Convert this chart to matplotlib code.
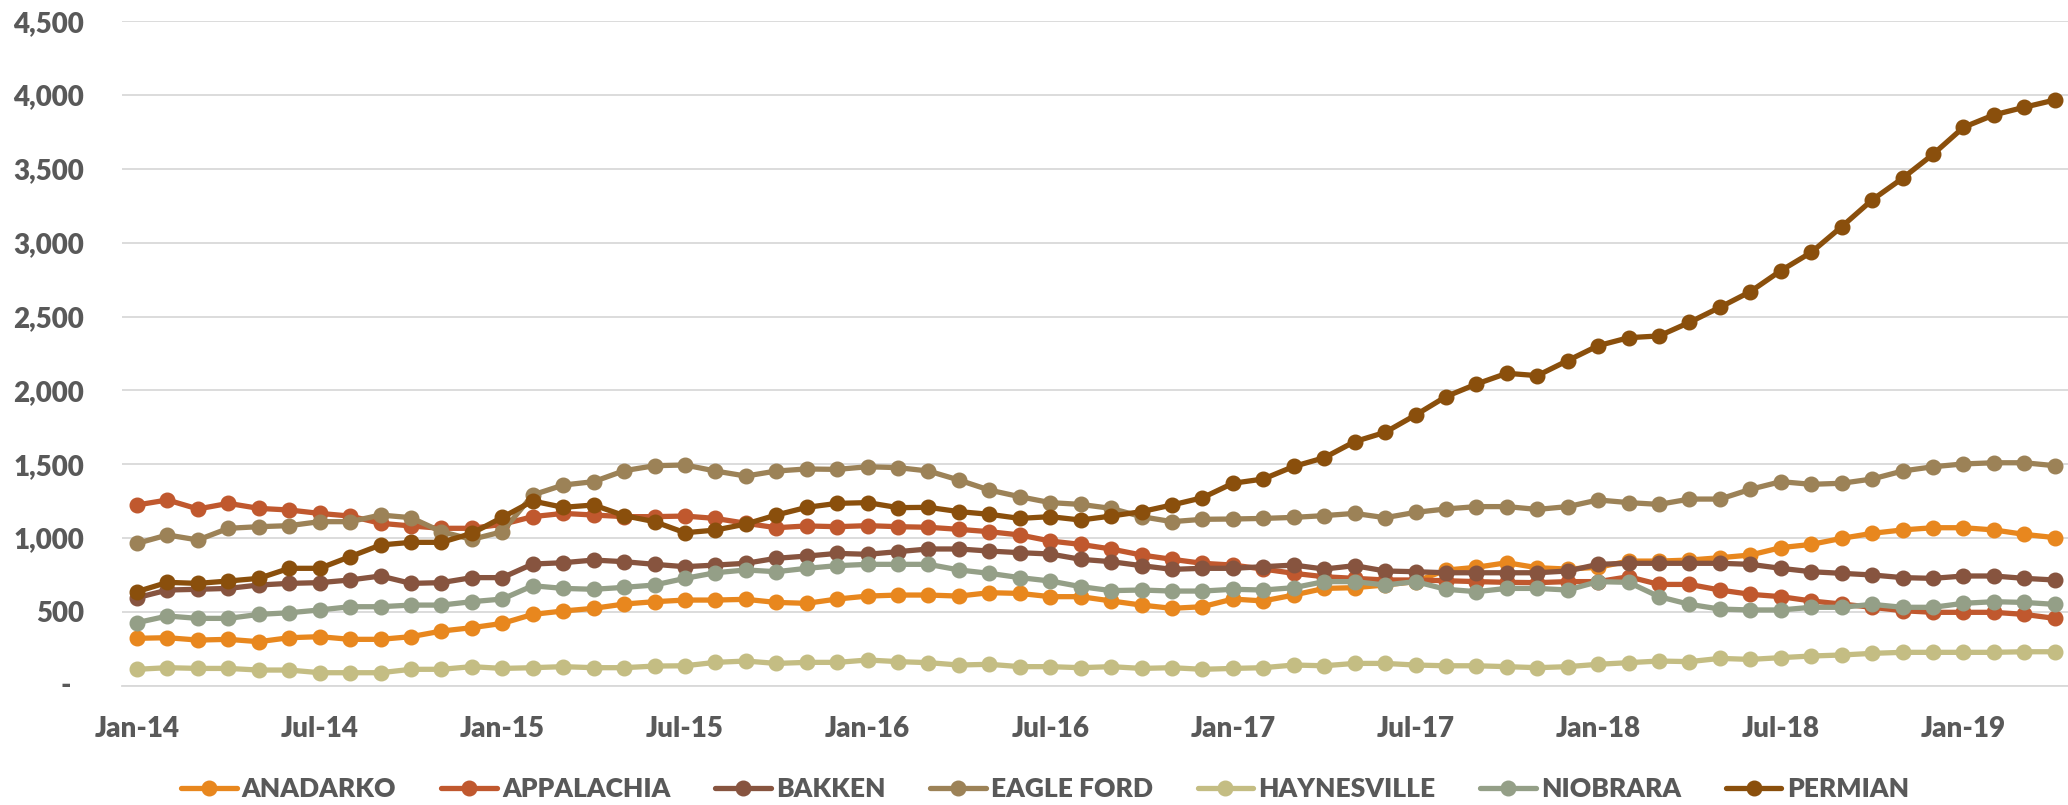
import matplotlib.pyplot as plt
from matplotlib.ticker import FuncFormatter, MultipleLocator

# monthly values, Jan-14 .. Apr-19
months = ['Jan-14', 'Feb-14', 'Mar-14', 'Apr-14', 'May-14', 'Jun-14', 'Jul-14', 'Aug-14',
          'Sep-14', 'Oct-14', 'Nov-14', 'Dec-14', 'Jan-15', 'Feb-15', 'Mar-15', 'Apr-15',
          'May-15', 'Jun-15', 'Jul-15', 'Aug-15', 'Sep-15', 'Oct-15', 'Nov-15', 'Dec-15',
          'Jan-16', 'Feb-16', 'Mar-16', 'Apr-16', 'May-16', 'Jun-16', 'Jul-16', 'Aug-16',
          'Sep-16', 'Oct-16', 'Nov-16', 'Dec-16', 'Jan-17', 'Feb-17', 'Mar-17', 'Apr-17',
          'May-17', 'Jun-17', 'Jul-17', 'Aug-17', 'Sep-17', 'Oct-17', 'Nov-17', 'Dec-17',
          'Jan-18', 'Feb-18', 'Mar-18', 'Apr-18', 'May-18', 'Jun-18', 'Jul-18', 'Aug-18',
          'Sep-18', 'Oct-18', 'Nov-18', 'Dec-18', 'Jan-19', 'Feb-19', 'Mar-19', 'Apr-19']

anadarko = [321, 325, 309, 314, 298, 325, 332, 314, 314, 332, 370, 393, 422, 483, 506, 524,
            553, 569, 580, 580, 585, 564, 558, 587, 607, 614, 614, 607, 630, 625, 603, 603,
            574, 546, 524, 535, 587,
            574, 614, 659, 664, 682, 705, 783, 802, 833, 799, 790, 802, 844, 844, 851, 867,
            885, 935, 957, 998, 1032, 1055, 1070, 1070, 1055, 1025, 1003]
appalachia = [1224, 1258, 1197, 1235, 1201, 1190, 1167, 1149, 1100, 1082, 1066, 1066, 1093, 1145, 1167, 1156,
              1145, 1145, 1149, 1133, 1100, 1070, 1082, 1077, 1084, 1077, 1073, 1059, 1043, 1021, 980, 957,
              926, 885, 856, 829, 817,
              790, 761, 738, 727, 716, 716, 711, 705, 700, 698, 705, 705, 738, 686, 686, 648,
              619, 603, 574, 553, 531, 508, 497, 497, 497, 483, 456]
bakken = [596, 648, 653, 659, 682, 693, 698, 716, 743, 693, 698, 732, 732, 824, 833, 851,
          840, 822, 806, 817, 829, 863, 878, 896, 890, 908, 926, 926, 912, 901, 892, 856,
          840, 813, 788, 795, 795,
          806, 817, 790, 813, 777, 772, 765, 765, 765, 765, 777, 822, 829, 829, 829, 829,
          822, 795, 772, 761, 750, 732, 727, 743, 743, 727, 716]
eagle_ford = [964, 1021, 987, 1066, 1077, 1084, 1111, 1111, 1156, 1138, 1043, 991, 1043, 1292, 1359, 1382,
              1456, 1490, 1495, 1454, 1420, 1454, 1468, 1465, 1483, 1477, 1454, 1393, 1325, 1280, 1240, 1228,
              1201, 1145, 1111, 1127, 1129,
              1133, 1140, 1152, 1167, 1138, 1174, 1197, 1213, 1213, 1194, 1213, 1258, 1240, 1228, 1264, 1264,
              1330, 1382, 1364, 1371, 1400, 1454, 1483, 1502, 1510, 1510, 1490]
haynesville = [111, 122, 117, 117, 106, 106, 88, 88, 88, 111, 111, 129, 117, 122, 129, 122,
               122, 133, 135, 158, 167, 151, 158, 158, 174, 163, 156, 140, 145, 129, 129, 122,
               129, 117, 122, 111, 117,
               122, 140, 135, 151, 151, 140, 135, 135, 129, 122, 129, 145, 156, 167, 163, 185,
               178, 190, 201, 208, 219, 226, 226, 226, 226, 230, 230]
niobrara = [427, 472, 456, 456, 483, 494, 513, 535, 535, 546, 546, 569, 587, 677, 659, 653,
            666, 682, 727, 765, 784, 772, 795, 813, 822, 822, 822, 784, 761, 732, 709, 671,
            644, 648, 641, 641, 653,
            648, 664, 705, 705, 682, 705, 653, 637, 659, 659, 648, 705, 700, 603, 551, 519,
            513, 513, 531, 531, 551, 531, 531, 558, 569, 564, 551]
permian = [637, 700, 693, 709, 727, 795, 795, 874, 953, 971, 971, 1032, 1140, 1251, 1208, 1224,
           1152, 1111, 1036, 1054, 1095, 1156, 1208, 1235, 1240, 1206, 1208, 1179, 1161, 1133, 1145, 1122,
           1149, 1179, 1224, 1273, 1371,
           1400, 1485, 1544, 1653, 1716, 1833, 1958, 2043, 2116, 2100, 2202, 2303, 2357, 2369, 2461, 2563,
           2669, 2811, 2935, 3109, 3290, 3437, 3599, 3782, 3866, 3918, 3967]

series = [
    ('ANADARKO', anadarko, '#E8871E'),
    ('APPALACHIA', appalachia, '#C0582E'),
    ('BAKKEN', bakken, '#87543F'),
    ('EAGLE FORD', eagle_ford, '#9C8257'),
    ('HAYNESVILLE', haynesville, '#C4BD83'),
    ('NIOBRARA', niobrara, '#949F87'),
    ('PERMIAN', permian, '#8A4F0C'),
]

text_color = '#595959'
grid_color = '#D9D9D9'
plt.rcParams['font.family'] = ['Lato', 'DejaVu Sans']
plt.rcParams['font.weight'] = 'heavy'

fig = plt.figure(figsize=(20.68, 8.05), dpi=100)
ax = fig.add_axes([121.8 / 2068, 1 - 685.7 / 805, (2070 - 121.8) / 2068, (685.7 - 21.3) / 805])

x = list(range(len(months)))
for name, values, color in series:
    ax.plot(x, values, color=color, lw=3.8, marker='o', ms=10.5,
            label=name, solid_capstyle='round', clip_on=False)

ax.set_xlim(-0.5, len(months) - 0.5)
ax.set_ylim(0, 4500)
ax.yaxis.set_major_locator(MultipleLocator(500))
ax.yaxis.set_major_formatter(FuncFormatter(lambda v, p: '' if v == 0 else f'{v:,.0f}'))
ax.set_xticks(x[::6])
ax.set_xticklabels(months[::6])

# accounting-style dash for the zero tick
ax.annotate('-', xy=(-0.5, 0), xycoords='data', xytext=(-40.5, 0),
            textcoords='offset points', ha='center', va='center',
            fontsize=20, color=text_color, annotation_clip=False)

ax.grid(axis='y', color=grid_color, lw=1.3)
ax.set_axisbelow(True)
for side in ['top', 'right', 'left']:
    ax.spines[side].set_visible(False)
ax.spines['bottom'].set_color(grid_color)
ax.spines['bottom'].set_linewidth(1.3)

ax.tick_params(axis='y', length=0, pad=27, labelsize=20, labelcolor=text_color)
ax.tick_params(axis='x', length=0, pad=22, labelsize=20, labelcolor=text_color)

fig.legend(loc='center', bbox_to_anchor=(1045 / 2068, 1 - 789 / 805), ncol=7,
           frameon=False, fontsize=19, handlelength=2.1, handletextpad=0.2,
           columnspacing=1.7, labelcolor=text_color, markerscale=1.0)

fig.savefig('out.png', dpi=100)
